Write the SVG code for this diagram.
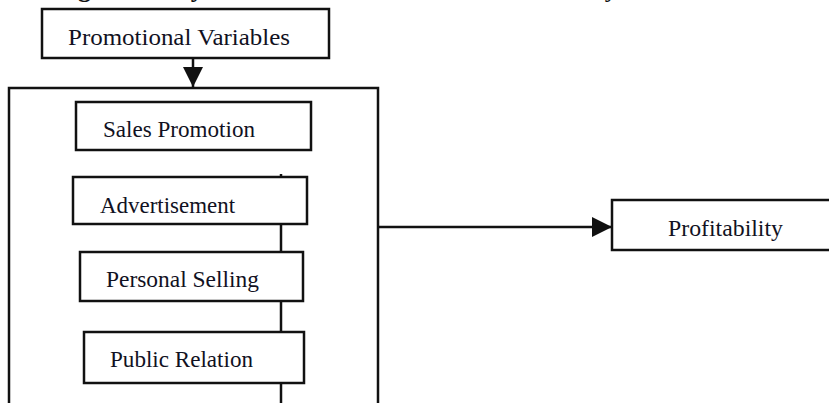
<svg xmlns="http://www.w3.org/2000/svg" width="829" height="403" viewBox="0 0 829 403">
  <defs>
    <style>
      .box { fill: #ffffff; stroke: #111111; stroke-width: 2.5; }
      .frame { fill: none; stroke: #111111; stroke-width: 2.5; }
      .line { fill: none; stroke: #111111; stroke-width: 2.5; }
      .lbl { font-family: "Liberation Serif", "Times New Roman", Times, serif; font-size: 24px; fill: #111122; }
      .head { font-family: "Liberation Serif", "Times New Roman", Times, serif; font-size: 26px; fill: #111111; }
    </style>
    <marker id="arrow" viewBox="0 0 20 20" refX="20" refY="10" markerWidth="20" markerHeight="20" markerUnits="userSpaceOnUse" orient="auto">
      <path d="M0,0 L20,10 L0,20 Z" fill="#111111"/>
    </marker>
  </defs>

  <text class="head" x="0" y="-3"><tspan font-weight="bold">Guiding the Study</tspan> Promotional Variables and Profitability Model is as follows</text>

  <g id="connectors">
    <line class="line" x1="193" y1="58" x2="193" y2="87" marker-end="url(#arrow)"/>
    <line class="line" x1="281" y1="174" x2="281" y2="403"/>
    <line class="line" x1="378" y1="227" x2="612" y2="227" marker-end="url(#arrow)"/>
  </g>

  <g id="promotional-variables">
    <rect class="box" x="42" y="9" width="287" height="49"/>
    <text class="lbl" x="68" y="45" textLength="222" lengthAdjust="spacingAndGlyphs">Promotional Variables</text>
  </g>

  <g id="variables-group">
    <path class="frame" d="M9,403 V88 H378 V403"/>
  </g>

  <g id="sales-promotion">
    <rect class="box" x="76" y="102" width="235" height="48"/>
    <text class="lbl" x="103" y="137" textLength="152" lengthAdjust="spacingAndGlyphs">Sales Promotion</text>
  </g>

  <g id="advertisement">
    <rect class="box" x="73" y="177" width="234" height="47"/>
    <text class="lbl" x="100" y="213" textLength="135" lengthAdjust="spacingAndGlyphs">Advertisement</text>
  </g>

  <g id="personal-selling">
    <rect class="box" x="80" y="252" width="223" height="49"/>
    <text class="lbl" x="106" y="287" textLength="153" lengthAdjust="spacingAndGlyphs">Personal Selling</text>
  </g>

  <g id="public-relation">
    <rect class="box" x="84" y="332" width="220" height="51"/>
    <text class="lbl" x="110" y="367" textLength="143" lengthAdjust="spacingAndGlyphs">Public Relation</text>
  </g>

  <g id="profitability">
    <rect class="box" x="612" y="200" width="230" height="50"/>
    <text class="lbl" x="668" y="236" textLength="115" lengthAdjust="spacingAndGlyphs">Profitability</text>
  </g>
</svg>
